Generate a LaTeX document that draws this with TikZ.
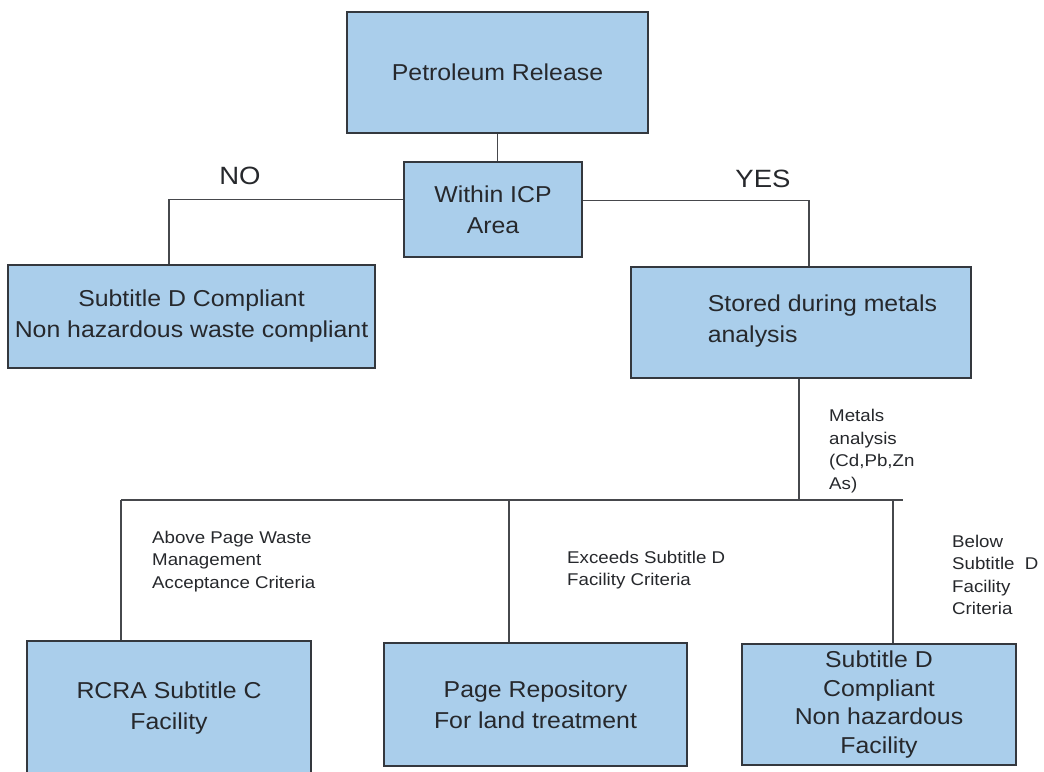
\documentclass[tikz,border=0pt]{standalone}
\usepackage{fontspec}
\setmainfont{Liberation Sans}
\newfontfamily\bxfont[FakeStretch=1.08]{Liberation Sans}
\newfontfamily\lbfont[FakeStretch=1.1]{Liberation Sans}
\definecolor{boxblue}{RGB}{170,206,235}
\definecolor{boxline}{RGB}{52,56,62}
\definecolor{conline}{RGB}{70,72,76}
\definecolor{txt}{RGB}{38,40,44}
\tikzset{
  box/.style={draw=boxline, line width=1.6pt, fill=boxblue, rectangle, inner sep=0pt,
    align=center, text=txt, font=\bxfont\fontsize{23}{31}\selectfont},
  lbl/.style={inner sep=0pt, align=left, anchor=west, text=txt,
    font=\lbfont\fontsize{17}{22.6}\selectfont},
  yn/.style={inner sep=0pt, text=txt, font=\lbfont\fontsize{25}{30}\selectfont},
  con/.style={draw=conline, line width=1.4pt}
}
\begin{document}
\begin{tikzpicture}[x=1pt,y=-1pt]
\useasboundingbox (0,0) rectangle (1044,771);
\fill[white] (0,0) rectangle (1044,771);

% boxes
\node[box, minimum width=301pt, minimum height=121pt] (pr) at (497.5,72.5) {Petroleum Release};
\node[box, minimum width=178pt, minimum height=95pt] (icp) at (493,209.5) {Within ICP\\Area};
\node[box, minimum width=367pt, minimum height=103pt] (sdc) at (191.5,316.5) {Subtitle D Compliant\\Non hazardous waste compliant};
\node[box, minimum width=340pt, minimum height=111pt] (stored) at (801,322.5) {};
\node[box, draw=none, fill=none, anchor=west, align=left] (storedtxt) at (707,321) {Stored during metals\\analysis};
\node[box, minimum width=284pt, minimum height=134pt] (rcra) at (169,708) {RCRA Subtitle C\\Facility};
\node[box, minimum width=303pt, minimum height=123pt] (page) at (535.5,704.5) {Page Repository\\For land treatment};
\node[box, minimum width=274pt, minimum height=121pt, font=\bxfont\fontsize{23}{28.7}\selectfont] (sdf) at (879,704.5) {Subtitle D\\Compliant\\Non hazardous\\Facility};

% junction coordinates
\coordinate (nojoint) at (169,199.5);
\coordinate (yesjoint) at (809,200.5);
\coordinate (mid) at (799,500);
\coordinate (busL) at (121,500);
\coordinate (busR) at (903,500);
\coordinate (busM) at (509,500);
\coordinate (busE) at (893,500);

% connectors
\draw[con] (pr.south) -- (pr.south |- icp.north);
\draw[con] (icp.west |- nojoint) -- (nojoint) -- (nojoint |- sdc.north);
\draw[con] (icp.east |- yesjoint) -- (yesjoint) -- (yesjoint |- stored.north);
\draw[con] (mid |- stored.south) -- (mid);
\draw[con] (busL) -- (busR);
\draw[con] (busL) -- (busL |- rcra.north);
\draw[con] (busM) -- (busM |- page.north);
\draw[con] (busE) -- (busE |- sdf.north);

% labels
\node[yn] (no) at (240,176) {NO};
\node[yn] (yes) at (763,179) {YES};
\node[lbl] (metals) at (829,451) {Metals\\analysis\\(Cd,Pb,Zn\\As)};
\node[lbl] (above) at (152,561.5) {Above Page Waste\\Management\\Acceptance Criteria};
\node[lbl] (exceeds) at (567,570) {Exceeds Subtitle D\\Facility Criteria};
\node[lbl] (below) at (952,575) {Below\\Subtitle\ \ D\\Facility\\Criteria};
\end{tikzpicture}
\end{document}
